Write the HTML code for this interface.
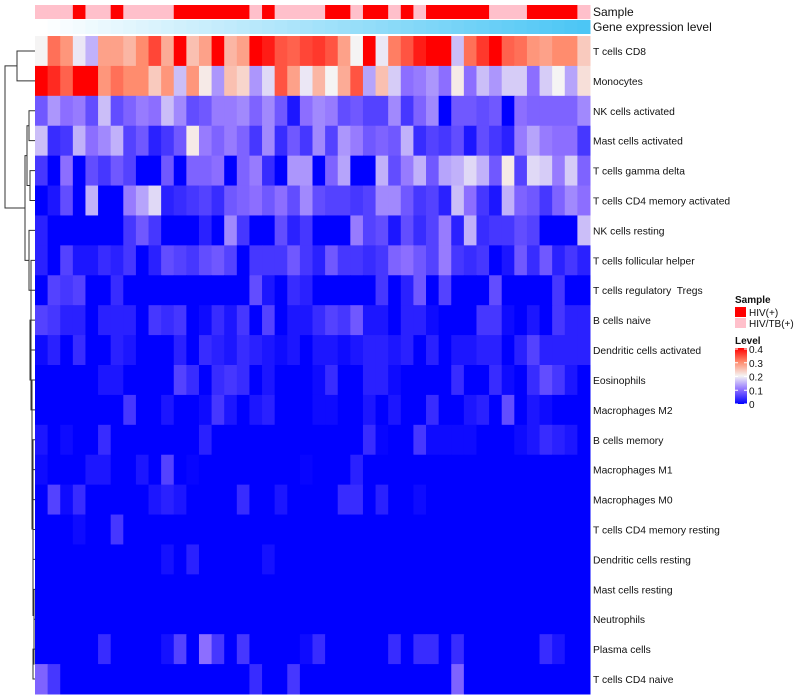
<!DOCTYPE html>
<html><head><meta charset="utf-8"><style>
body{margin:0;background:#fff;width:800px;height:700px;overflow:hidden;font-family:"Liberation Sans",sans-serif}
svg{display:block}
text{white-space:pre}
</style></head><body>
<svg id="chart" width="800" height="700" xmlns="http://www.w3.org/2000/svg"></svg>
<script>
const rowLabels=["T cells CD8","Monocytes","NK cells activated","Mast cells activated","T cells gamma delta","T cells CD4 memory activated","NK cells resting","T cells follicular helper","T cells regulatory  Tregs","B cells naive","Dendritic cells activated","Eosinophils","Macrophages M2","B cells memory","Macrophages M1","Macrophages M0","T cells CD4 memory resting","Dendritic cells resting","Mast cells resting","Neutrophils","Plasma cells","T cells CD4 naive"];
const sampleGroup=[0,0,0,1,0,0,1,0,0,0,0,1,1,1,1,1,1,0,1,0,0,0,0,1,1,0,1,1,0,1,0,1,1,1,1,1,0,0,0,1,1,1,1,0];
const r0=[0.2,0.32,0.29,0.19,0.15,0.28,0.28,0.26,0.3,0.35,0.27,0.4,0.25,0.28,0.4,0.26,0.28,0.4,0.38,0.34,0.33,0.35,0.36,0.34,0.28,0.2,0.4,0.19,0.31,0.34,0.38,0.4,0.4,0.16,0.32,0.36,0.4,0.33,0.32,0.29,0.28,0.3,0.3,0.24];
const r1=[0.4,0.37,0.33,0.4,0.4,0.29,0.32,0.3,0.3,0.24,0.29,0.16,0.29,0.21,0.13,0.25,0.23,0.13,0.18,0.34,0.28,0.19,0.26,0.2,0.27,0.34,0.14,0.25,0.17,0.1,0.11,0.13,0.1,0.21,0.1,0.16,0.13,0.17,0.17,0.1,0.17,0.2,0.14,0.22];
const r2=[0.08,0.13,0.1,0.11,0.07,0.16,0.07,0.09,0.11,0.1,0.16,0.12,0.07,0.08,0.11,0.11,0.12,0.09,0.12,0.08,0.02,0.1,0.12,0.11,0.07,0.08,0.06,0.06,0.12,0.05,0.09,0.12,0,0.08,0.08,0.07,0.08,0,0.1,0.09,0.09,0.09,0.09,0.12];
const r3=[0.16,0.04,0.05,0.15,0.1,0.12,0.15,0.06,0.08,0.03,0.05,0.08,0.21,0.11,0.09,0.11,0.09,0.05,0.12,0.04,0.08,0.05,0.12,0.06,0.13,0.11,0.08,0.09,0.08,0.15,0.04,0.06,0.05,0.07,0.02,0.07,0.05,0.03,0.11,0.14,0.11,0.1,0.1,0.05];
const r4=[0.05,0,0.1,0,0.07,0.05,0.08,0.06,0,0,0.08,0,0.09,0.09,0.1,0,0.09,0.11,0.04,0,0.13,0.13,0,0.09,0.14,0,0,0.15,0.07,0.11,0.15,0.08,0.14,0.15,0.18,0.15,0.08,0.21,0.06,0.18,0.17,0.11,0.17,0.09];
const r5=[0,0.02,0.07,0,0.15,0,0,0.11,0.14,0.18,0.03,0.04,0.05,0.06,0.04,0.08,0.09,0.1,0.08,0.1,0.07,0.12,0.07,0.06,0.06,0.05,0.06,0.12,0.12,0.08,0.05,0.06,0.03,0.16,0.1,0.05,0.02,0.15,0.09,0.08,0.05,0.09,0.12,0.1];
const r6=[0.03,0,0,0,0,0,0,0.05,0.08,0.05,0,0,0,0.03,0,0.12,0.05,0,0,0.07,0.03,0.05,0,0,0,0.11,0.06,0.07,0.02,0.07,0.04,0.06,0.11,0.03,0.15,0.04,0.05,0.05,0.07,0.06,0,0,0,0.16];
const r7=[0.03,0,0.06,0.02,0.02,0.04,0.03,0.05,0,0.03,0.07,0.06,0.05,0.07,0.08,0.06,0,0.05,0.05,0.05,0.08,0.05,0.03,0.08,0.05,0.05,0.04,0.05,0.09,0.1,0.08,0.06,0.11,0.05,0.04,0.05,0,0.02,0.08,0.04,0.08,0.03,0.05,0.03];
const r8=[0,0.06,0.05,0.06,0,0,0.04,0,0,0,0,0,0,0,0,0,0,0.07,0.02,0,0.04,0.03,0,0,0,0,0,0.05,0,0.03,0.08,0,0.06,0,0,0,0.07,0,0,0,0,0.05,0,0];
const r9=[0.06,0.05,0.03,0.03,0,0.03,0.03,0.03,0,0.05,0.04,0.05,0,0.01,0.04,0.02,0.05,0,0.06,0,0.02,0.02,0.04,0.06,0.05,0.08,0.02,0.02,0,0.03,0.03,0.01,0,0,0,0.05,0.05,0.01,0,0.02,0,0.05,0.03,0.03];
const r10=[0.01,0.03,0,0.04,0,0,0.03,0.02,0,0,0,0.03,0,0.04,0.03,0.02,0.04,0.03,0.02,0.01,0.02,0,0.02,0.02,0.01,0.02,0.03,0.03,0.02,0.03,0,0.03,0,0.02,0.02,0.03,0.03,0,0.03,0.06,0.03,0.03,0.03,0.03];
const r11=[0,0,0,0,0,0.02,0.02,0,0,0,0,0.06,0.04,0,0.04,0.05,0.04,0,0.02,0,0,0,0.01,0.04,0,0,0.03,0.03,0.01,0,0,0,0,0.04,0,0,0.04,0.01,0,0.04,0.07,0.05,0.02,0];
const r12=[0,0,0,0,0,0,0,0.05,0,0,0.02,0,0,0.01,0.05,0.02,0,0.02,0.03,0,0,0,0.01,0.01,0,0,0.02,0,0.02,0,0,0.04,0,0,0.02,0.03,0,0.07,0,0.02,0.01,0,0,0];
const r13=[0.02,0,0.01,0,0,0.04,0,0,0,0,0,0,0,0.03,0,0,0,0,0,0,0,0,0,0,0,0,0.04,0.005,0,0,0.05,0.01,0.01,0.01,0.01,0,0,0,0.01,0.02,0.04,0.03,0.02,0];
const r14=[0.01,0,0,0,0.02,0.02,0,0,0.02,0,0.06,0,0.005,0,0,0,0,0,0,0,0,0.005,0,0,0,0.03,0,0,0,0,0,0,0,0,0,0,0,0,0,0,0,0,0,0];
const r15=[0,0.06,0.01,0.04,0,0,0,0,0,0.02,0.03,0.02,0,0,0,0,0.04,0,0,0.02,0,0,0,0,0.04,0.04,0,0.03,0,0,0.01,0,0,0,0,0,0,0,0,0,0,0,0,0];
const r16=[0,0,0,0.01,0,0,0.05,0,0,0,0,0,0,0,0,0,0,0,0,0,0,0,0,0,0,0,0,0,0,0,0,0,0,0,0,0,0,0,0,0,0,0,0,0];
const r17=[0,0,0,0,0,0,0,0,0,0,0.015,0,0.03,0,0,0,0,0,0.015,0,0,0,0,0,0,0,0,0,0,0,0,0,0,0,0,0,0,0,0,0,0,0,0,0];
const r18=[0,0,0,0,0,0,0,0,0,0,0,0,0,0,0,0,0,0,0,0,0,0,0,0,0,0,0,0,0,0,0,0,0,0,0,0,0,0,0,0,0,0,0,0];
const r19=[0,0,0,0,0,0,0,0,0,0,0,0,0,0,0,0,0,0,0,0,0,0,0,0,0,0,0,0,0,0,0,0,0,0,0,0,0,0,0,0,0,0,0,0];
const r20=[0,0,0,0,0,0.04,0,0,0,0,0.015,0.06,0,0.1,0.05,0,0.05,0,0,0,0,0.01,0.04,0,0,0,0,0,0.04,0,0.04,0.04,0,0.04,0,0,0,0,0,0,0.04,0.02,0,0];
const r21=[0.09,0.05,0,0,0,0,0,0,0,0,0,0,0,0,0,0,0,0.04,0,0,0.05,0,0,0,0,0,0,0,0,0,0,0,0,0.09,0,0,0,0,0,0,0,0,0,0];
const values=[r0,r1,r2,r3,r4,r5,r6,r7,r8,r9,r10,r11,r12,r13,r14,r15,r16,r17,r18,r19,r20,r21];
const legendTicks=[0.4,0.3,0.2,0.1,0];

const NS="http://www.w3.org/2000/svg";
const svg=document.getElementById('chart');
const X0=35,X1=590,Y0=36,Y1=694;
const nC=sampleGroup.length,nR=rowLabels.length;
const cw=(X1-X0)/nC,rh=(Y1-Y0)/nR;
const xPos=i=>X0+i*cw;
const yPos=j=>Y0+j*rh;
function mk(t,a,p){const e=document.createElementNS(NS,t);for(const k in a)e.setAttribute(k,a[k]);(p||svg).appendChild(e);return e;}
const stops=[[0,[0,0,255]],[0.1,[140,110,255]],[0.2,[245,244,244]],[0.3,[255,140,110]],[0.4,[255,0,0]]];
function col(v){v=Math.max(0,Math.min(0.4,v));for(let i=0;i<stops.length-1;i++){const a=stops[i][0],ca=stops[i][1],b=stops[i+1][0],cb=stops[i+1][1];if(v<=b){const t=(v-a)/(b-a);return 'rgb('+ca.map((c,k)=>Math.round(c+(cb[k]-c)*t)).join(',')+')';}}return 'rgb(255,0,0)';}

const gAnn=mk('g',{});


sampleGroup.forEach((g,i)=>{
  const sc=mk('rect',{x:xPos(i),y:5,width:cw+0.5,height:14,fill:g?'#ff0000':'#ffc0cb'},gAnn);
  
  
  const t=i/(nC-1);
  const c=[255+(76-255)*t,255+(198-255)*t,255+(245-255)*t].map(Math.round);
  const ec=mk('rect',{x:xPos(i),y:20,width:cw+0.5,height:14,fill:'rgb('+c.join(',')+')'},gAnn);
  
  
});
const t1=mk('text',{x:593,y:16,'font-size':12,fill:'#111'});t1.textContent='Sample';


const t2=mk('text',{x:593,y:31,'font-size':12,fill:'#111'});t2.textContent='Gene expression level';



const gH=mk('g',{});


values.forEach((row,j)=>{
  row.forEach((v,i)=>{
    const hc=mk('rect',{x:xPos(i),y:yPos(j),width:cw+0.5,height:rh+0.5,fill:col(v)},gH);
    
    
  });
  const t=mk('text',{x:593,y:yPos(j)+rh/2+4,'font-size':10.3,fill:'#111','xml:space':'preserve'});
  t.textContent=rowLabels[j];
  
  
});

const chainH=[31,31,30,31,32,32,33,32,33,33,33,34,34];
let chain=[20,21,33];
for(let r=19,k=chainH.length-1;r>=8;r--,k--){chain=[r,chain,chainH[k]];}
const B1=[[2,3,29],[4,5,30],27];
const B2=[6,[7,chain,31],29];
const tree=[[0,1,17],[B1,B2,25],5];
const gD=mk('g',{});


function draw(n){
  if(typeof n==='number')return {y:yPos(n)+rh/2,x:X0};
  const a=draw(n[0]),b=draw(n[1]),h=n[2];
  const p='M'+a.x+','+a.y+'H'+h+'V'+b.y+'H'+b.x;
  const e=mk('path',{d:p,fill:'none',stroke:'#333','stroke-width':1},gD);
  
  
  return {y:(a.y+b.y)/2,x:h};
}
draw(tree);

const gL=mk('g',{});


const lt=mk('text',{x:735,y:303,'font-size':10,'font-weight':'bold',fill:'#111'},gL);lt.textContent='Sample';


[['#ff0000','HIV(+)'],['#ffc0cb','HIV/TB(+)']].forEach((d,k)=>{
  const sw=mk('rect',{x:735,y:307+k*11,width:11,height:10,fill:d[0]},gL);
  
  
  const t=mk('text',{x:749,y:316+k*11,'font-size':10,fill:'#111'},gL);t.textContent=d[1];
  
  
});
const lv=mk('text',{x:735,y:344,'font-size':10,'font-weight':'bold',fill:'#111'},gL);lv.textContent='Level';


const defs=mk('defs',{});
const lg=mk('linearGradient',{id:'lvg',x1:0,y1:1,x2:0,y2:0},defs);
stops.forEach(s=>mk('stop',{offset:s[0]/0.4,'stop-color':col(s[0])},lg));
const cb=mk('rect',{x:735,y:348,width:12,height:56,fill:'url(#lvg)'},gL);


legendTicks.forEach(v=>{
  const y=404-v/0.4*55;
  mk('line',{x1:735,x2:738,y1:y,y2:y,stroke:'#fff'},gL);
  mk('line',{x1:744,x2:747,y1:y,y2:y,stroke:'#fff'},gL);
  const t=mk('text',{x:749,y:y+4,'font-size':10,fill:'#111'},gL);t.textContent=String(v);
  
  
});
</script>
</body></html>
